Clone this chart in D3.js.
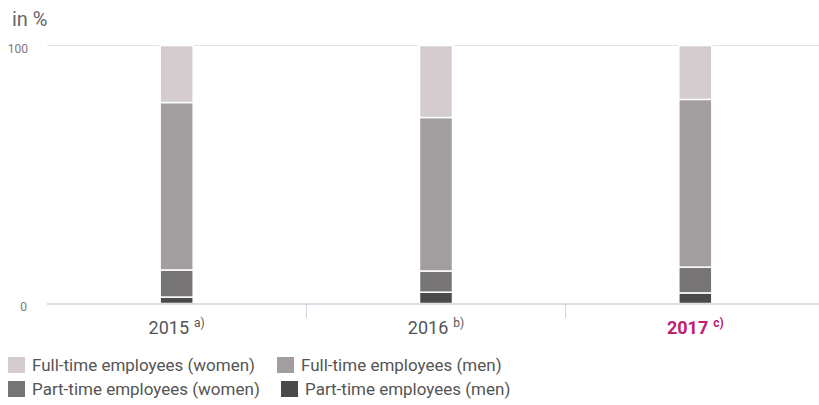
<!DOCTYPE html>
<html><head><meta charset="utf-8">
<script src="https://cdn.jsdelivr.net/npm/d3@7"></script>
<style>body{margin:0;background:#fff;} text{font-family:Roboto,"Noto Sans",sans-serif;}</style>
</head><body>
<svg id="c" width="819" height="405"></svg>
<script>
const categories = ["2015", "2016", "2017"];
const footnotes = ["a)", "b)", "c)"];
const seriesNames = ["Part-time employees (men)", "Part-time employees (women)", "Full-time employees (men)", "Full-time employees (women)"];
const partTimeMen = [2.5, 4.4, 4.1];
const partTimeWomen = [10.5, 8.2, 10.0];
const fullTimeMen = [64.9, 59.5, 65.0];
const fullTimeWomen = [22.1, 27.9, 20.9];
const yTicks = [0, 100];
const colors = ["#4b4a4b", "#777475", "#a29d9f", "#d4cccf"];

const svg = d3.select("#c");
const x = d3.scaleBand().domain(categories).range([47, 825]).paddingInner(0).paddingOuter(0);
const y = d3.scaleLinear().domain([0, 100]).range([303.5, 45.5]);

const rows = categories.map((c, i) => ({cat: c, pm: partTimeMen[i], pw: partTimeWomen[i], fm: fullTimeMen[i], fw: fullTimeWomen[i]}));
const stack = d3.stack().keys(["pm", "pw", "fm", "fw"])(rows);

// gridline at 100
svg.append("line").attr("x1", 47).attr("x2", 819).attr("y1", y(100)).attr("y2", y(100))
  .attr("stroke", "#e3e3e6").attr("stroke-width", 1);

// y tick labels
svg.selectAll(".yl").data(yTicks).enter().append("text")
  .attr("x", d => d === 0 ? 27 : 28).attr("y", d => y(d) + 7)
  .attr("text-anchor", "end").attr("font-size", 12).attr("fill", "#777").text(d => d);

svg.append("text").attr("x", 12).attr("y", 26).attr("font-size", 20).attr("fill", "#666").text("in %");

const bw = 33;
stack.forEach((s, k) => {
  svg.selectAll(".s" + k).data(s).enter().append("rect")
    .attr("x", d => x(d.data.cat) + x.bandwidth() / 2 - bw / 2)
    .attr("width", bw)
    .attr("y", d => y(d[1]))
    .attr("height", d => y(d[0]) - y(d[1]))
    .attr("fill", colors[k])
    .attr("stroke", "#fff").attr("stroke-width", 1.5);
});

// x axis line
svg.append("line").attr("x1", 47).attr("x2", 819).attr("y1", 304).attr("y2", 304)
  .attr("stroke", "#d2d2dc").attr("stroke-width", 1.5);
// separators
categories.slice(1).forEach(c => {
  svg.append("line").attr("x1", x(c)).attr("x2", x(c)).attr("y1", 304).attr("y2", 318)
    .attr("stroke", "#d2d2dc").attr("stroke-width", 1);
});

// x labels
categories.forEach((c, i) => {
  const last = i === categories.length - 1;
  const t = svg.append("text").attr("x", x(c) + x.bandwidth() / 2).attr("y", 334)
    .attr("text-anchor", "middle").attr("font-size", 18)
    .attr("fill", last ? "#c0206d" : "#555").attr("font-weight", last ? "bold" : "normal");
  t.append("tspan").text(c);
  t.append("tspan").attr("dx", 5).attr("dy", -7).attr("font-size", 12).text(footnotes[i]);
});

// legend
const legend = [
  {name: "Full-time employees (women)", color: colors[3], x: 8, y: 365},
  {name: "Full-time employees (men)", color: colors[2], x: 277, y: 365},
  {name: "Part-time employees (women)", color: colors[1], x: 8, y: 389},
  {name: "Part-time employees (men)", color: colors[0], x: 281, y: 389}
];
legend.forEach(l => {
  svg.append("rect").attr("x", l.x).attr("y", l.y - 8).attr("width", 17).attr("height", 16).attr("fill", l.color);
  svg.append("text").attr("x", l.x + 24).attr("y", l.y + 6).attr("font-size", 17).attr("fill", "#555").text(l.name);
});
</script>
</body></html>
